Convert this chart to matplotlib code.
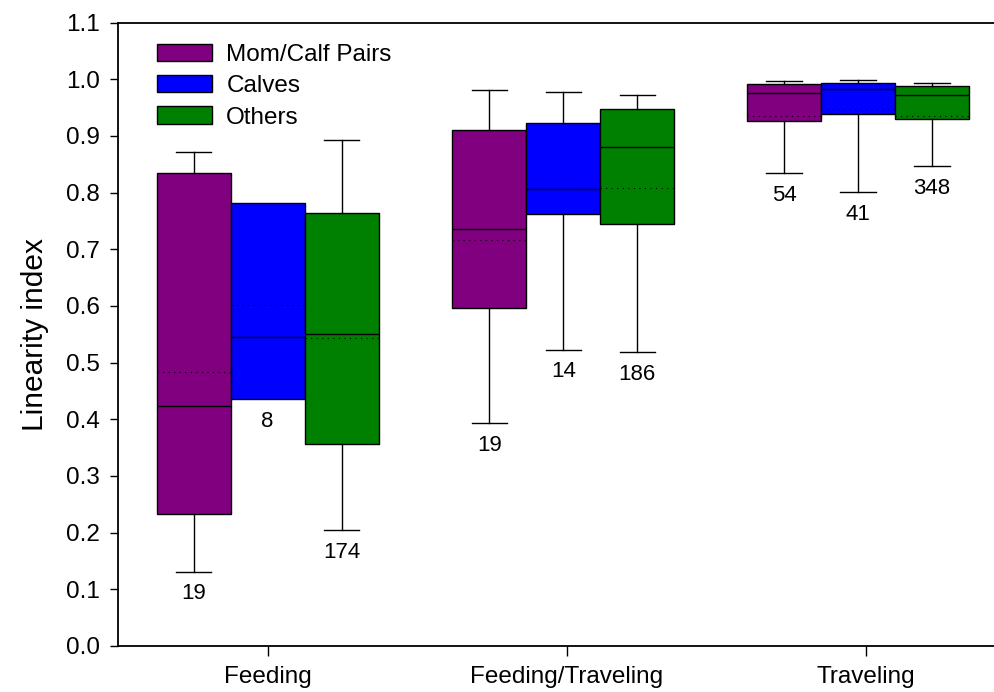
import matplotlib
matplotlib.use('Agg')
import matplotlib.pyplot as plt
from matplotlib.patches import Patch

plt.rcParams['font.family'] = ['Liberation Sans', 'DejaVu Sans']

# behaviour categories and groups
behaviours = ['Feeding', 'Feeding/Traveling', 'Traveling']
groups = ['Mom/Calf Pairs', 'Calves', 'Others']
colors = ['#800080', '#0000ff', '#008000']

# box statistics per group, one value per behaviour
med = {
    'Mom/Calf Pairs': [0.423, 0.736, 0.975],
    'Calves': [0.546, 0.806, 0.983],
    'Others': [0.551, 0.880, 0.972],
}
q1 = {
    'Mom/Calf Pairs': [0.233, 0.597, 0.927],
    'Calves': [0.435, 0.763, 0.938],
    'Others': [0.356, 0.745, 0.930],
}
q3 = {
    'Mom/Calf Pairs': [0.834, 0.910, 0.991],
    'Calves': [0.781, 0.922, 0.993],
    'Others': [0.764, 0.948, 0.989],
}
# Calves/Feeding has no whiskers (n=8)
whislo = {
    'Mom/Calf Pairs': [0.131, 0.393, 0.834],
    'Calves': [None, 0.523, 0.801],
    'Others': [0.205, 0.518, 0.847],
}
whishi = {
    'Mom/Calf Pairs': [0.872, 0.981, 0.997],
    'Calves': [None, 0.978, 0.998],
    'Others': [0.892, 0.972, 0.993],
}
means = {
    'Mom/Calf Pairs': [0.484, 0.716, 0.936],
    'Calves': [0.602, 0.806, 0.948],
    'Others': [0.544, 0.808, 0.935],
}
counts = {
    'Mom/Calf Pairs': [19, 19, 54],
    'Calves': [8, 14, 41],
    'Others': [174, 186, 348],
}

# layout
group_x = [0.0, 0.988, 1.973]
box_w = 0.247
offsets = [-box_w, 0.0, box_w]

fig = plt.figure(figsize=(9.94, 6.92), dpi=100)
ax = fig.add_axes([0.1187, 0.0665, 0.9033, 0.9008])

for g, grp in enumerate(groups):
    for b in range(len(behaviours)):
        x = group_x[b] + offsets[g]
        lo, hi = whislo[grp][b], whishi[grp][b]
        has_whiskers = lo is not None
        st = dict(med=med[grp][b], q1=q1[grp][b], q3=q3[grp][b],
                  whislo=lo if has_whiskers else q1[grp][b],
                  whishi=hi if has_whiskers else q3[grp][b],
                  mean=means[grp][b], fliers=[], label='')
        ax.bxp([st], positions=[x], widths=box_w, capwidths=box_w * 0.48,
               patch_artist=True, showmeans=True, meanline=True,
               showfliers=False, showcaps=has_whiskers,
               boxprops=dict(facecolor=colors[g], edgecolor='black', linewidth=1.0),
               medianprops=dict(color='black', linewidth=1.0),
               meanprops=dict(color='black', linestyle=(0, (1, 4)), linewidth=0.8),
               whiskerprops=dict(color='black', linewidth=1.0),
               capprops=dict(color='black', linewidth=1.0),
               manage_ticks=False, zorder=2)
        # sample size under the lowest mark
        low = lo if has_whiskers else q1[grp][b]
        ax.annotate(str(counts[grp][b]), xy=(x, low),
                    xytext=(0, -16), textcoords='offset points',
                    ha='center', va='center', fontsize=16)

ax.set_xlim(-0.5, 2.5)
ax.set_ylim(0.0, 1.1)
ax.set_xticks(range(len(behaviours)))
ax.set_xticklabels(behaviours)
ax.set_yticks([i / 10 for i in range(12)])
ax.set_yticklabels(['%.1f' % (i / 10) for i in range(12)])
ax.tick_params(axis='y', direction='out', length=6, width=1, labelsize=17.5, pad=7)
ax.tick_params(axis='x', direction='out', length=7.5, width=1, labelsize=17.5, pad=7)
ax.set_ylabel('Linearity index', fontsize=21.5, labelpad=12)
for s in ax.spines.values():
    s.set_linewidth(1.3)

handles = [Patch(facecolor=c, edgecolor='black', linewidth=1.0) for c in colors]
ax.legend(handles, groups, loc='upper left', bbox_to_anchor=(0.158, 0.937),
          bbox_transform=fig.transFigure, frameon=False, fontsize=17.5,
          handlelength=2.25, handleheight=0.72, labelspacing=0.38,
          handletextpad=0.6, borderaxespad=0, borderpad=0)

fig.savefig('out.png', dpi=100)
